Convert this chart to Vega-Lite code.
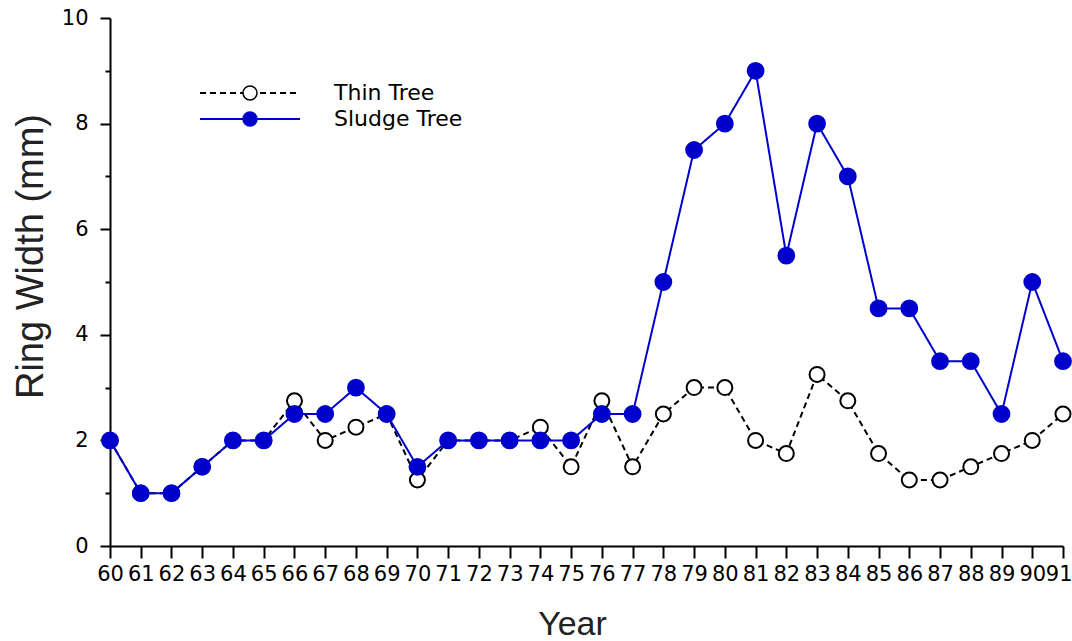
{
  "$schema": "https://vega.github.io/schema/vega-lite/v6.json",
  "width": 953,
  "height": 528,
  "autosize": {"type": "none"},
  "padding": {"left": 110, "top": 18, "right": 9, "bottom": 95},
  "background": "white",
  "config": {
    "view": {"stroke": null},
    "axis": {
      "grid": false,
      "domainColor": "black",
      "tickColor": "black",
      "domainWidth": 2,
      "tickWidth": 2,
      "labelFont": "DejaVu Sans",
      "labelFontSize": 21,
      "labelColor": "black",
      "titleFont": "Liberation Sans",
      "titleFontWeight": "normal",
      "titleColor": "#222222"
    },
    "legend": {"padding": 0, "labelFont": "DejaVu Sans", "labelFontSize": 22, "labelColor": "black"}
  },
  "data": {
    "values": [
      {"year": 60, "series": "Thin Tree", "width": 2},
      {"year": 61, "series": "Thin Tree", "width": 1},
      {"year": 62, "series": "Thin Tree", "width": 1},
      {"year": 63, "series": "Thin Tree", "width": 1.5},
      {"year": 64, "series": "Thin Tree", "width": 2},
      {"year": 65, "series": "Thin Tree", "width": 2},
      {"year": 66, "series": "Thin Tree", "width": 2.75},
      {"year": 67, "series": "Thin Tree", "width": 2},
      {"year": 68, "series": "Thin Tree", "width": 2.25},
      {"year": 69, "series": "Thin Tree", "width": 2.5},
      {"year": 70, "series": "Thin Tree", "width": 1.25},
      {"year": 71, "series": "Thin Tree", "width": 2},
      {"year": 72, "series": "Thin Tree", "width": 2},
      {"year": 73, "series": "Thin Tree", "width": 2},
      {"year": 74, "series": "Thin Tree", "width": 2.25},
      {"year": 75, "series": "Thin Tree", "width": 1.5},
      {"year": 76, "series": "Thin Tree", "width": 2.75},
      {"year": 77, "series": "Thin Tree", "width": 1.5},
      {"year": 78, "series": "Thin Tree", "width": 2.5},
      {"year": 79, "series": "Thin Tree", "width": 3},
      {"year": 80, "series": "Thin Tree", "width": 3},
      {"year": 81, "series": "Thin Tree", "width": 2},
      {"year": 82, "series": "Thin Tree", "width": 1.75},
      {"year": 83, "series": "Thin Tree", "width": 3.25},
      {"year": 84, "series": "Thin Tree", "width": 2.75},
      {"year": 85, "series": "Thin Tree", "width": 1.75},
      {"year": 86, "series": "Thin Tree", "width": 1.25},
      {"year": 87, "series": "Thin Tree", "width": 1.25},
      {"year": 88, "series": "Thin Tree", "width": 1.5},
      {"year": 89, "series": "Thin Tree", "width": 1.75},
      {"year": 90, "series": "Thin Tree", "width": 2},
      {"year": 91, "series": "Thin Tree", "width": 2.5},
      {"year": 60, "series": "Sludge Tree", "width": 2},
      {"year": 61, "series": "Sludge Tree", "width": 1},
      {"year": 62, "series": "Sludge Tree", "width": 1},
      {"year": 63, "series": "Sludge Tree", "width": 1.5},
      {"year": 64, "series": "Sludge Tree", "width": 2},
      {"year": 65, "series": "Sludge Tree", "width": 2},
      {"year": 66, "series": "Sludge Tree", "width": 2.5},
      {"year": 67, "series": "Sludge Tree", "width": 2.5},
      {"year": 68, "series": "Sludge Tree", "width": 3},
      {"year": 69, "series": "Sludge Tree", "width": 2.5},
      {"year": 70, "series": "Sludge Tree", "width": 1.5},
      {"year": 71, "series": "Sludge Tree", "width": 2},
      {"year": 72, "series": "Sludge Tree", "width": 2},
      {"year": 73, "series": "Sludge Tree", "width": 2},
      {"year": 74, "series": "Sludge Tree", "width": 2},
      {"year": 75, "series": "Sludge Tree", "width": 2},
      {"year": 76, "series": "Sludge Tree", "width": 2.5},
      {"year": 77, "series": "Sludge Tree", "width": 2.5},
      {"year": 78, "series": "Sludge Tree", "width": 5},
      {"year": 79, "series": "Sludge Tree", "width": 7.5},
      {"year": 80, "series": "Sludge Tree", "width": 8},
      {"year": 81, "series": "Sludge Tree", "width": 9},
      {"year": 82, "series": "Sludge Tree", "width": 5.5},
      {"year": 83, "series": "Sludge Tree", "width": 8},
      {"year": 84, "series": "Sludge Tree", "width": 7},
      {"year": 85, "series": "Sludge Tree", "width": 4.5},
      {"year": 86, "series": "Sludge Tree", "width": 4.5},
      {"year": 87, "series": "Sludge Tree", "width": 3.5},
      {"year": 88, "series": "Sludge Tree", "width": 3.5},
      {"year": 89, "series": "Sludge Tree", "width": 2.5},
      {"year": 90, "series": "Sludge Tree", "width": 5},
      {"year": 91, "series": "Sludge Tree", "width": 3.5}
    ]
  },
  "layer": [
    {
      "mark": {"type": "line", "strokeWidth": 2},
      "encoding": {
        "x": {
          "field": "year",
          "type": "quantitative",
          "scale": {"domain": [60, 91], "nice": false, "zero": false},
          "axis": {
            "values": [60, 61, 62, 63, 64, 65, 66, 67, 68, 69, 70, 71, 72, 73, 74, 75, 76, 77, 78, 79, 80, 81, 82, 83, 84, 85, 86, 87, 88, 89, 90, 91],
            "format": "d",
            "labelOverlap": false,
            "labelFlush": false,
            "labelAlign": {"condition": {"test": "datum.value == 91", "value": "right"}, "value": "center"},
            "labelOffset": {"condition": {"test": "datum.value == 91", "value": 9}, "value": 0},
            "tickSize": 12,
            "labelPadding": 5,
            "title": "Year",
            "titleFontSize": 34,
            "titleX": 462,
            "titleY": 88,
            "titleBaseline": "alphabetic",
            "titleAlign": "center"
          }
        },
        "y": {
          "field": "width",
          "type": "quantitative",
          "scale": {"domain": [0, 10], "nice": false},
          "axis": {
            "values": [0, 2, 4, 6, 8, 10],
            "tickSize": 10,
            "labelPadding": 12,
            "title": "Ring Width (mm)",
            "titleFontSize": 38,
            "titleX": -68,
            "titleY": 238,
            "titleBaseline": "alphabetic",
            "titleAlign": "center"
          }
        },
        "color": {
          "field": "series",
          "type": "nominal",
          "scale": {"domain": ["Thin Tree", "Sludge Tree"], "range": ["black", "#0000CC"]},
          "legend": {
            "orient": "none",
            "legendX": 129,
            "legendY": 64,
            "title": null,
            "symbolType": "M-5,0H5",
            "symbolSize": 400,
            "symbolStrokeWidth": 2,
            "labelExpr": "''",
            "labelOffset": 73,
            "rowPadding": 4
          }
        },
        "strokeDash": {
          "field": "series",
          "type": "nominal",
          "scale": {"domain": ["Thin Tree", "Sludge Tree"], "range": [[6, 4], [1, 0]]}
        }
      }
    },
    {
      "mark": {"type": "point", "shape": "circle", "filled": true, "strokeWidth": 2, "opacity": 1},
      "encoding": {
        "x": {
          "field": "year",
          "type": "quantitative",
          "axis": {
            "values": [60, 61, 62, 63, 64, 65, 66, 67, 68, 69, 70, 71, 72, 73, 74, 75, 76, 77, 78, 79, 80, 81, 82, 83, 84, 85, 86, 87, 88, 89, 90, 91],
            "format": "d",
            "labelOverlap": false,
            "labelFlush": false,
            "labelAlign": {"condition": {"test": "datum.value == 91", "value": "right"}, "value": "center"},
            "labelOffset": {"condition": {"test": "datum.value == 91", "value": 9}, "value": 0},
            "tickSize": 12,
            "labelPadding": 5,
            "title": "Year",
            "titleFontSize": 34,
            "titleX": 462,
            "titleY": 88,
            "titleBaseline": "alphabetic",
            "titleAlign": "center"
          }
        },
        "y": {
          "field": "width",
          "type": "quantitative",
          "axis": {
            "orient": "left",
            "values": [1, 3, 5, 7, 9],
            "labels": false,
            "domain": false,
            "tickSize": 5,
            "title": null
          }
        },
        "fill": {
          "field": "series",
          "type": "nominal",
          "scale": {"range": ["#0000CC", "white"]},
          "legend": {
            "orient": "none",
            "legendX": 129,
            "legendY": 64,
            "title": null,
            "values": ["Thin Tree", "Sludge Tree"],
            "symbolType": "M-0.7,0A0.7,0.7 0 1,0 0.7,0A0.7,0.7 0 1,0 -0.7,0",
            "symbolSize": 400,
            "symbolStrokeWidth": 1.5,
            "labelOffset": 73,
            "rowPadding": 4,
            "zindex": 1
          }
        },
        "stroke": {
          "field": "series",
          "type": "nominal",
          "scale": {"range": ["#0000CC", "black"]}
        },
        "size": {
          "field": "series",
          "type": "nominal",
          "scale": {"domain": ["Sludge Tree", "Thin Tree", "none"], "range": [250, 200, 100]},
          "legend": null
        }
      }
    }
  ],
  "resolve": {"axis": {"y": "independent"}}
}
